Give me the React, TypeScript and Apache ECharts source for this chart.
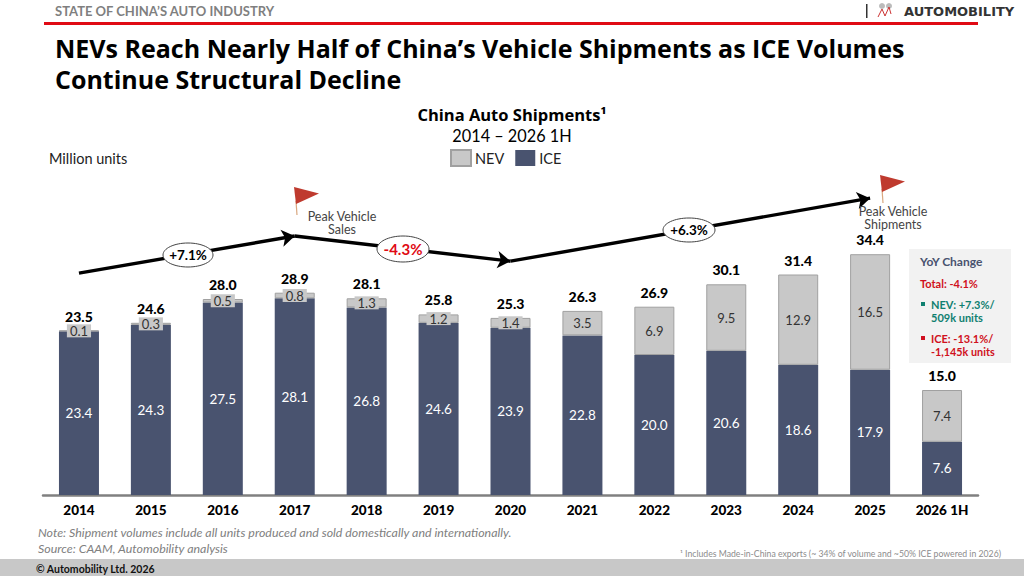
import React, { useEffect, useRef } from "react";
import * as echarts from "echarts";

const categories = ["2014","2015","2016","2017","2018","2019","2020","2021","2022","2023","2024","2025","2026 1H"];
const iceValues = [23.4,24.3,27.5,28.1,26.8,24.6,23.9,22.8,20.0,20.6,18.6,17.9,7.6];
const nevValues = [0.1,0.3,0.5,0.8,1.3,1.2,1.4,3.5,6.9,9.5,12.9,16.5,7.4];
const totalValues = [23.5,24.6,28.0,28.9,28.1,25.8,25.3,26.3,26.9,30.1,31.4,34.4,15.0];
const trendSegments: [string, number, string, number][] = [
  ["2014", 31.7, "2017", 37.0],
  ["2017", 37.0, "2020", 33.4],
  ["2020", 33.4, "2025", 42.4],
];

const FONT = "Lato, 'Open Sans', sans-serif";
const TITLE_FONT = "'Open Sans', Lato, sans-serif";
const NAVY = "#49536f";
const GREY = "#c8c8c8";
const RED = "#e00a14";

const txt = (x: number, y: number, text: string, o: any = {}) => ({
  type: "text", x, y, z: o.z ?? 20,
  style: {
    text,
    fontFamily: o.family ?? FONT,
    fontSize: o.size ?? 12,
    fontWeight: o.weight ?? "normal",
    fontStyle: o.style ?? "normal",
    fill: o.fill ?? "#000",
    align: o.align ?? "left",
    verticalAlign: "middle",
    ...(o.lineHeight ? { lineHeight: o.lineHeight } : {}),
  },
});

const bubble = (cx: number, cy: number, rx: number, ry: number, text: string, fill: string) => [
  { type: "ellipse", z: 30, shape: { cx, cy, rx, ry }, style: { fill: "#fff", stroke: "#444", lineWidth: 1 } },
  txt(cx, cy, text, { z: 31, size: text.startsWith("-") ? 15 : 13.5, weight: "bold", fill, align: "center" }),
];

const flag = (x: number, y: number) => [
  { type: "line", z: 20, shape: { x1: x + 2, y1: y + 14, x2: x + 3, y2: y + 28 }, style: { stroke: "#d9a77f", lineWidth: 1.2 } },
  { type: "polygon", z: 21, shape: { points: [[x, y], [x + 25, y + 6.5], [x + 2, y + 17]] }, style: { fill: "#bf3a2e" } },
];

export default function App() {
  const ref = useRef<HTMLDivElement>(null);
  useEffect(() => {
    document.body.style.margin = "0";
    const chart = echarts.init(ref.current!, undefined, { renderer: "svg" });
    chart.setOption({
      animation: false,
      backgroundColor: "#fff",
      textStyle: { fontFamily: FONT },
      title: [
        {
          text: "NEVs Reach Nearly Half of China’s Vehicle Shipments as ICE Volumes\nContinue Structural Decline",
          left: 55, top: 32, padding: 0,
          textStyle: { fontFamily: TITLE_FONT, fontSize: 25, fontWeight: "bold", color: "#000", lineHeight: 31 },
        },
        {
          text: "China Auto Shipments¹",
          left: 512, top: 106, padding: 0, textAlign: "center",
          textStyle: { fontFamily: TITLE_FONT, fontSize: 16.5, fontWeight: "bold", color: "#000" },
        },
        {
          text: "2014 – 2026 1H",
          left: 512, top: 127, padding: 0, textAlign: "center",
          textStyle: { fontFamily: FONT, fontSize: 16.3, fontWeight: "normal", color: "#000" },
        },
      ],
      legend: {
        data: ["NEV", "ICE"],
        left: 450, top: 149, padding: 0,
        itemWidth: 20, itemHeight: 16, itemGap: 11,
        selectedMode: false,
        icon: "rect",
        textStyle: { fontFamily: FONT, fontSize: 14.5, color: "#222", padding: [0, 0, 0, -1] },
      },
      grid: { left: 43, right: 46, top: 145, bottom: 81 },
      xAxis: {
        type: "category",
        data: categories,
        axisTick: { show: false },
        axisLine: { lineStyle: { color: "#808080", width: 2.5 } },
        axisLabel: { margin: 8, fontFamily: FONT, fontSize: 13.5, fontWeight: 900, color: "#000" },
      },
      yAxis: { type: "value", min: 0, max: 50, show: false, splitLine: { show: false } },
      series: [
        {
          name: "ICE", type: "bar", stack: "s", data: iceValues, barWidth: 40,
          itemStyle: { color: NAVY },
          label: {
            show: true, position: "inside", color: "#fff", fontFamily: FONT, fontSize: 13.5,
            formatter: (p: any) => Number(p.value).toFixed(1),
          },
        },
        {
          name: "NEV", type: "bar", stack: "s", data: nevValues, barWidth: 40,
          itemStyle: { color: GREY, borderColor: "#a0a0a0", borderWidth: 1 },
          label: {
            show: true, position: "inside", color: "#333", fontFamily: FONT, fontSize: 13,
            backgroundColor: GREY, padding: [0, 3],
          },
        },
        {
          name: "Total", type: "line", data: totalValues, symbol: "circle", symbolSize: 1, z: 10,
          lineStyle: { opacity: 0 },
          itemStyle: { color: "transparent" },
          label: {
            show: true, position: "top", distance: 7,
            color: "#000", fontFamily: FONT, fontSize: 14, fontWeight: 900,
            formatter: (p: any) => Number(p.value).toFixed(1),
          },
          markLine: {
            silent: true, animation: false,
            symbol: ["none", "arrow"], symbolSize: 13,
            lineStyle: { color: "#000", width: 3.4, type: "solid" },
            label: { show: false },
            data: trendSegments.map(([a, av, b, bv]) => [
              { coord: [a, av] },
              { coord: [b, bv] },
            ]),
          },
        },
      ],
      graphic: [
        txt(55, 11, "STATE OF CHINA’S AUTO INDUSTRY", { size: 13, weight: "bold", fill: "#7f7f7f" }),
        { type: "rect", shape: { x: 44, y: 22, width: 934, height: 3 }, style: { fill: RED } },
        { type: "rect", shape: { x: 866, y: 4, width: 1.5, height: 14 }, style: { fill: "#333" } },
        { type: "circle", shape: { cx: 882, cy: 6, r: 3 }, style: { fill: "#bbb" } },
        { type: "circle", shape: { cx: 889, cy: 6, r: 3 }, style: { fill: "#bbb" } },
        { type: "polyline", shape: { points: [[878, 17], [882, 9], [885, 16], [889, 7], [891, 14]] }, style: { stroke: "#c33", fill: "none", lineWidth: 1 } },
        txt(904, 11, "AUTOMOBILITY", { size: 13, weight: "bold", fill: "#333", family: "'DejaVu Sans', sans-serif" }),
        txt(49, 158, "Million units", { size: 14.5, fill: "#222" }),
        ...flag(294, 187),
        txt(342, 222.5, "Peak Vehicle\nSales", { size: 12.5, fill: "#444", align: "center", lineHeight: 13 }),
        ...flag(880, 175),
        txt(893, 217.5, "Peak Vehicle\nShipments", { size: 12.5, fill: "#444", align: "center", lineHeight: 13 }),
        ...bubble(188, 255, 25, 12, "+7.1%", "#000"),
        ...bubble(403, 249, 26, 13, "-4.3%", RED),
        ...bubble(689, 230, 26, 12, "+6.3%", "#000"),
        { type: "rect", shape: { x: 909, y: 249, width: 102, height: 114 }, style: { fill: "#f2f2f2" } },
        txt(920, 261, "YoY Change", { size: 12, weight: "bold", fill: NAVY }),
        txt(920, 283, "Total: -4.1%", { size: 11, weight: "bold", fill: "#d01020" }),
        { type: "rect", shape: { x: 921, y: 302, width: 4, height: 4 }, style: { fill: "#0f8070" } },
        txt(931, 304, "NEV: +7.3%/", { size: 11, weight: "bold", fill: "#0f8070" }),
        txt(931, 317, "509k units", { size: 11, weight: "bold", fill: "#0f8070" }),
        { type: "rect", shape: { x: 921, y: 336, width: 4, height: 4 }, style: { fill: "#d01020" } },
        txt(931, 338, "ICE: -13.1%/", { size: 11, weight: "bold", fill: "#d01020" }),
        txt(931, 351, "-1,145k units", { size: 10.8, weight: "bold", fill: "#d01020" }),
        txt(38, 532, "Note: Shipment volumes include all units produced and sold domestically and internationally.", { size: 12.4, style: "italic", fill: "#808080" }),
        txt(38, 548, "Source: CAAM, Automobility analysis", { size: 12.4, style: "italic", fill: "#808080" }),
        txt(1001, 553, "¹ Includes Made-in-China exports (~ 34% of volume and ~50% ICE powered in 2026)", { size: 8.7, fill: "#8c8c8c", align: "right" }),
        { type: "rect", z: 1, shape: { x: 0, y: 559, width: 1024, height: 17 }, style: { fill: GREY } },
        txt(36, 569, "© Automobility Ltd. 2026", { size: 10.5, weight: "bold", fill: "#111" }),
      ],
    });
    return () => chart.dispose();
  }, []);
  return <div ref={ref} style={{ position: "absolute", left: 0, top: 0, width: 1024, height: 576 }} />;
}
